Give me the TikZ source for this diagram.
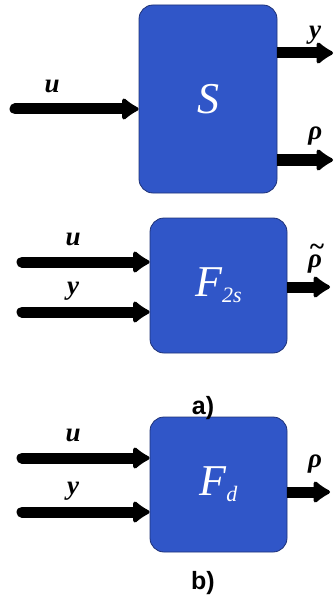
\documentclass[tikz,border=0pt]{standalone}
\usepackage{fontspec}
\setmainfont{Liberation Serif}
\newfontfamily\capfont{Liberation Sans}
\usetikzlibrary{arrows.meta, positioning}
\definecolor{sysblue}{RGB}{48,86,200}
\definecolor{sysedge}{RGB}{30,50,120}

\begin{document}
\begin{tikzpicture}[
    x=1pt, y=-1pt,
    base/.style={draw=sysedge, line width=0.8pt, fill=sysblue, rounded corners=14pt, text=white, font=\fontsize{44}{44}\selectfont\itshape},
    block/.style={base, minimum width=137pt, minimum height=135pt},
    sig/.style={font=\fontsize{27}{27}\selectfont\bfseries\itshape},
    caption/.style={font=\capfont\bfseries\fontsize{25}{25}\selectfont},
    arrow/.style={line width=11pt, -{Latex[length=19pt,width=27pt,round]}},
    inarrow/.style={arrow, line cap=round}
]
\useasboundingbox (0,0) rectangle (335,596);

    \node [base, minimum width=138pt, minimum height=188pt] (sys) at (208,99) {S};
    \node [block] (twos) at (218.5,285.5) {F\raisebox{-6pt}{\fontsize{22}{22}\selectfont 2s}};
    \node [block] (det) at (218.5,484.5) {F\raisebox{-6pt}{\fontsize{22}{22}\selectfont d}};
    \node [caption] (capa) at (203,408) {a)};
    \node [caption] (capb) at (203,583) {b)};

    % free ends
    \coordinate (sysin) at (15,109);
    \coordinate (sysy) at (333,53);
    \coordinate (sysrho) at (333,160);
    \coordinate (twosu) at (22,262);
    \coordinate (twosy) at (22,312);
    \coordinate (twosrho) at (330,287);
    \coordinate (detu) at (22,458);
    \coordinate (dety) at (22,512);
    \coordinate (detrho) at (330,492);

    \draw [inarrow] (sysin) -- (sysin -| sys.west) node[sig, above=7pt, pos=0.3] {u};
    \draw [arrow] (sys.east |- sysy) -- (sysy) node[sig, above=0pt, pos=0.68] {y};
    \draw [arrow] (sys.east |- sysrho) -- (sysrho) node[sig, above=6pt, pos=0.68] {ρ};

    \draw [inarrow] (twosu) -- (twosu -| twos.west) node[sig, above=7pt, pos=0.4] {u};
    \draw [inarrow] (twosy) -- (twosy -| twos.west) node[sig, above=3pt, pos=0.4] {y};
    \draw [arrow] (twos.east |- twosrho) -- (twosrho) node[sig, above=5pt, pos=0.65] {\makebox[0pt][l]{\hspace{1pt}\raisebox{12pt}{\textasciitilde}}ρ};

    \draw [inarrow] (detu) -- (detu -| det.west) node[sig, above=7pt, pos=0.4] {u};
    \draw [inarrow] (dety) -- (dety -| det.west) node[sig, above=3pt, pos=0.4] {y};
    \draw [arrow] (det.east |- detrho) -- (detrho) node[sig, above=10pt, pos=0.65] {ρ};

\end{tikzpicture}
\end{document}
